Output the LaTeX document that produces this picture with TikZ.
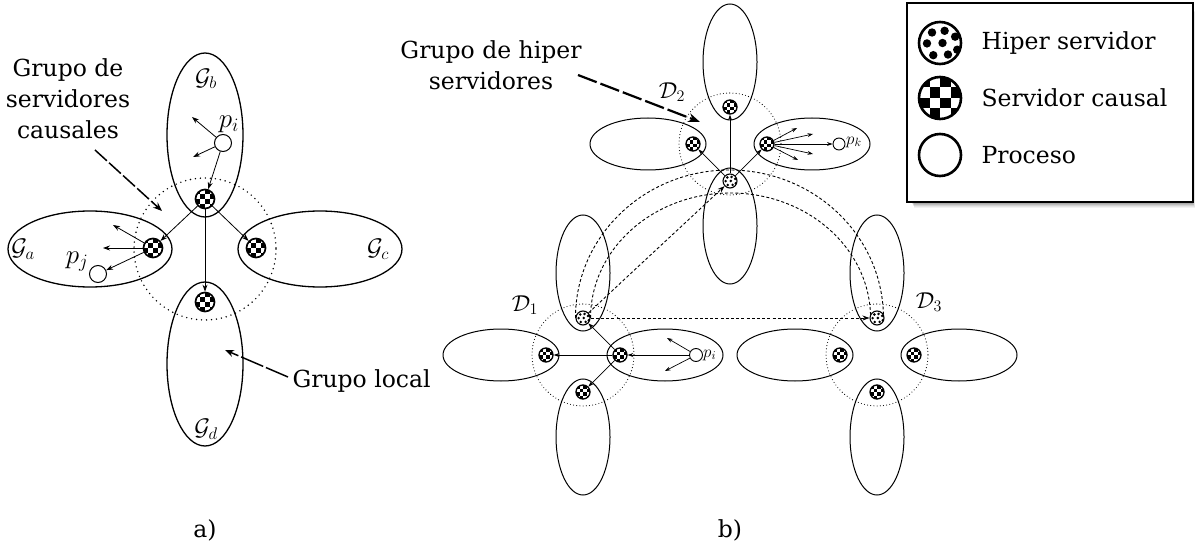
\RequirePackage{fix-cm}
\documentclass[tikz,border=0pt]{standalone}
\usepackage{fontspec}
\setmainfont{DejaVu Serif}
\usetikzlibrary{arrows.meta}
\pgfdeclarelayer{bg}
\pgfsetlayers{bg,main}
\begin{document}
\begin{tikzpicture}[x=1pt,y=-1pt,
  cserv/.style={circle, draw, fill=white, inner sep=0pt, minimum size=#1pt,
    path picture={\foreach \i/\j in {0/0,0/2,1/1,1/3,2/0,2/2,3/1,3/3}
      \fill[black] ([shift={({(\i-2)*#1/4},{(\j-2)*#1/4})}]path picture bounding box.center) rectangle ++({#1/4},{#1/4});}},
  hserv/.style={circle, draw, fill=white, inner sep=0pt, minimum size=#1pt,
    path picture={\foreach \a/\b in {-0.38/-0.5,0.22/-0.58,-0.62/0.02,0.12/0.0,0.72/-0.3,-0.32/0.58,0.38/0.55,0.82/0.32}
      \fill[black] ([shift={({\a*#1/2},{\b*#1/2})}]path picture bounding box.center) circle[radius={0.1*#1*1pt}];}},
  proc/.style={circle, draw, fill=white, inner sep=0pt, minimum size=#1pt},
  grpA/.style={line width=1.3pt},
  grpB/.style={line width=1pt},
  dotA/.style={line width=1.6pt, line cap=round, dash pattern=on 0pt off 5pt},
  dotB/.style={line width=1.1pt, line cap=round, dash pattern=on 0pt off 3.2pt},
  arrA/.style={line width=0.8pt, -{Stealth[length=7pt,width=5pt]}},
  arrB/.style={line width=0.7pt, -{Stealth[length=5.5pt,width=3.8pt]}},
  dsh/.style={line width=0.9pt, dash pattern=on 3pt off 2.2pt},
  ptrA/.style={line width=1.5pt, dash pattern=on 16pt off 3pt, -{Stealth[length=9pt,width=7pt]}},
  ptrB/.style={line width=2.2pt, dash pattern=on 20pt off 4pt, -{Stealth[length=12pt,width=9pt]}},
  txt/.style={font=\fontsize{23.5}{31}\selectfont},
  mathA/.style={font=\fontsize{27}{27}\selectfont},
  calA/.style={font=\fontsize{24}{24}\selectfont},
  calB/.style={font=\fontsize{23}{23}\selectfont},
  mathB/.style={font=\fontsize{17}{17}\selectfont}
]
\useasboundingbox (0,0) rectangle (1196,545);

% ================= a) =================
\draw[dotA] (205,249) circle[radius=71];
\draw[grpA] (90,249) ellipse[x radius=82, y radius=38];
\draw[grpA] (320,249) ellipse[x radius=82, y radius=38];
\draw[grpA] (205,135) ellipse[x radius=38, y radius=82];
\draw[grpA] (205,364) ellipse[x radius=38, y radius=82];

\node[cserv=19, line width=1.7pt] (sb) at (205,199) {};
\node[cserv=19, line width=1.7pt] (sa) at (153,248) {};
\node[cserv=19, line width=1.7pt] (sc) at (256,248) {};
\node[cserv=19, line width=1.7pt] (sd) at (205,302) {};
\node[proc=17, line width=1pt] (pi) at (223,143) {};
\node[proc=17, line width=1pt] (pj) at (98,274) {};

\coordinate (pi1) at (192,117);
\coordinate (pi2) at (193,157);
\coordinate (sa1) at (113,225);
\coordinate (sa2) at (103,248);
\draw[arrA] (pi) -- (pi1);
\draw[arrA] (pi) -- (pi2);
\draw[arrA] (pi) -- (sb);
\draw[arrA] (sb) -- (sa);
\draw[arrA] (sb) -- (sc);
\draw[arrA] (sb) -- (sd);
\draw[arrA] (sa) -- (sa1);
\draw[arrA] (sa) -- (sa2);
\draw[arrA] (sa) -- (pj);

\node[mathA] (lpi) at (229,124) {$p_i$};
\node[mathA] (lpj) at (77,262) {$p_j$};
\node[calA] (lgb) at (206,79) {$\mathcal{G}_b$};
\node[calA] (lga) at (23,249) {$\mathcal{G}_a$};
\node[calA] (lgc) at (378,249) {$\mathcal{G}_c$};
\node[calA] (lgd) at (206,429) {$\mathcal{G}_d$};

\node[txt, align=center] (tgsc) at (68,99) {Grupo de\\servidores\\causales};
\coordinate (gA1) at (95,150);
\coordinate (gA2) at (162,211);
\draw[ptrA] (gA1) -- (gA2);

\node[txt, anchor=west] (tgl) at (289,381) {Grupo local};
\coordinate (gL1) at (288,377);
\coordinate (gL2) at (225,350);
\draw[ptrA, dash pattern=on 24pt off 3pt] (gL1) -- (gL2);

\node[txt] (la) at (205,530) {a)};

% ================= b) =================
% D2
\draw[dotB] (730,144) circle[radius=51];
\draw[grpB] (730,62) ellipse[x radius=27, y radius=58];
\draw[grpB] (648,144) ellipse[x radius=58, y radius=26];
\draw[grpB] (812,144) ellipse[x radius=58, y radius=26];
\draw[grpB] (730,226) ellipse[x radius=27, y radius=58];
% D1
\draw[dotB] (583,355) circle[radius=51];
\draw[grpB] (583,273) ellipse[x radius=27, y radius=58];
\draw[grpB] (501,355) ellipse[x radius=58, y radius=26];
\draw[grpB] (665,355) ellipse[x radius=58, y radius=26];
\draw[grpB] (583,437) ellipse[x radius=27, y radius=58];
% D3
\draw[dotB] (877,355) circle[radius=51];
\draw[grpB] (877,273) ellipse[x radius=27, y radius=58];
\draw[grpB] (795,355) ellipse[x radius=58, y radius=26];
\draw[grpB] (959,355) ellipse[x radius=58, y radius=26];
\draw[grpB] (877,437) ellipse[x radius=27, y radius=58];

% servers
\node[cserv=14, line width=1.3pt] (d2t) at (730,107) {};
\node[cserv=14, line width=1.3pt] (d2l) at (693,144) {};
\node[cserv=14, line width=1.3pt] (d2r) at (767,144) {};
\node[hserv=14, line width=1.1pt] (h2) at (730,181) {};
\node[proc=12, line width=0.9pt] (pk) at (839,144) {};

\node[hserv=14, line width=1.1pt] (h1) at (583,318) {};
\node[cserv=14, line width=1.3pt] (d1l) at (546,355) {};
\node[cserv=14, line width=1.3pt] (d1r) at (620,355) {};
\node[cserv=14, line width=1.3pt] (d1b) at (583,392) {};
\node[proc=13, line width=0.9pt] (pb) at (696,355) {};

\node[hserv=14, line width=1.1pt] (h3) at (877,318) {};
\node[cserv=14, line width=1.3pt] (d3l) at (840,355) {};
\node[cserv=14, line width=1.3pt] (d3r) at (914,355) {};
\node[cserv=14, line width=1.3pt] (d3b) at (877,392) {};

% hyper server connections (behind)
\begin{pgfonlayer}{bg}
\draw[dsh] (h1.west) arc[start angle=-180, end angle=0, x radius=154, y radius=148];
\draw[dsh] (h1.east) arc[start angle=-180, end angle=0, x radius=140, y radius=125];
\end{pgfonlayer}
\draw[dsh, -{Stealth[length=7pt,width=5pt]}] (h1) -- (h3);
\draw[dsh, -{Stealth[length=7pt,width=5pt]}] (h1) -- (h2);

% D2 arrows
\draw[arrB] (h2) -- (d2t);
\draw[arrB] (h2) -- (d2l);
\draw[arrB] (h2) -- (d2r);
\coordinate (k1) at (797,128);
\coordinate (k2) at (813,134);
\coordinate (k4) at (813,154);
\coordinate (k5) at (798,160);
\draw[arrB] (d2r) -- (k1);
\draw[arrB] (d2r) -- (k2);
\draw[arrB] (d2r) -- (pk);
\draw[arrB] (d2r) -- (k4);
\draw[arrB] (d2r) -- (k5);

% D1 arrows
\coordinate (b1) at (667,338);
\coordinate (b2) at (665,371);
\draw[arrB] (pb) -- (d1r);
\draw[arrB] (pb) -- (b1);
\draw[arrB] (pb) -- (b2);
\draw[arrB] (d1r) -- (d1l);
\draw[arrB] (d1r) -- (h1);
\draw[arrB] (d1r) -- (d1b);

% labels b)
\node[calB] (ld1) at (525,305) {$\mathcal{D}_1$};
\node[calB] (ld2) at (672,92) {$\mathcal{D}_2$};
\node[calB] (ld3) at (929,302) {$\mathcal{D}_3$};
\node[mathB, anchor=west, inner sep=1pt] (lpk) at (845,142) {$p_k$};
\node[mathB, anchor=west, inner sep=1pt] (lpb) at (702,355) {$p_i$};

\node[txt, align=center] (tghs) at (491,65) {Grupo de hiper\\servidores};
\coordinate (gH1) at (578,75);
\coordinate (gH2) at (700,122);
\draw[ptrB] (gH1) -- (gH2);

\node[txt] (lb) at (730,530) {b)};

% ================= legend =================
\foreach \k/\o in {1/0.10,2/0.10,3/0.10,4/0.08,5/0.06,6/0.05}
  \fill[black, opacity=\o] (911+0.5*\k,6+\k) rectangle (1192+0.5*\k,202+\k);
\draw[line width=2pt, fill=white] (907,3) rectangle (1193,202);
\node[hserv=42, line width=2.6pt] (lh) at (940,43) {};
\node[cserv=42, line width=2.6pt] (lc) at (940,98) {};
\node[proc=42, line width=2.6pt] (lp) at (940,155) {};
\node[txt, anchor=west] (tlh) at (978,43) {Hiper servidor};
\node[txt, anchor=west] (tlc) at (978,98) {Servidor causal};
\node[txt, anchor=west] (tlp) at (978,155) {Proceso};
\end{tikzpicture}
\end{document}
